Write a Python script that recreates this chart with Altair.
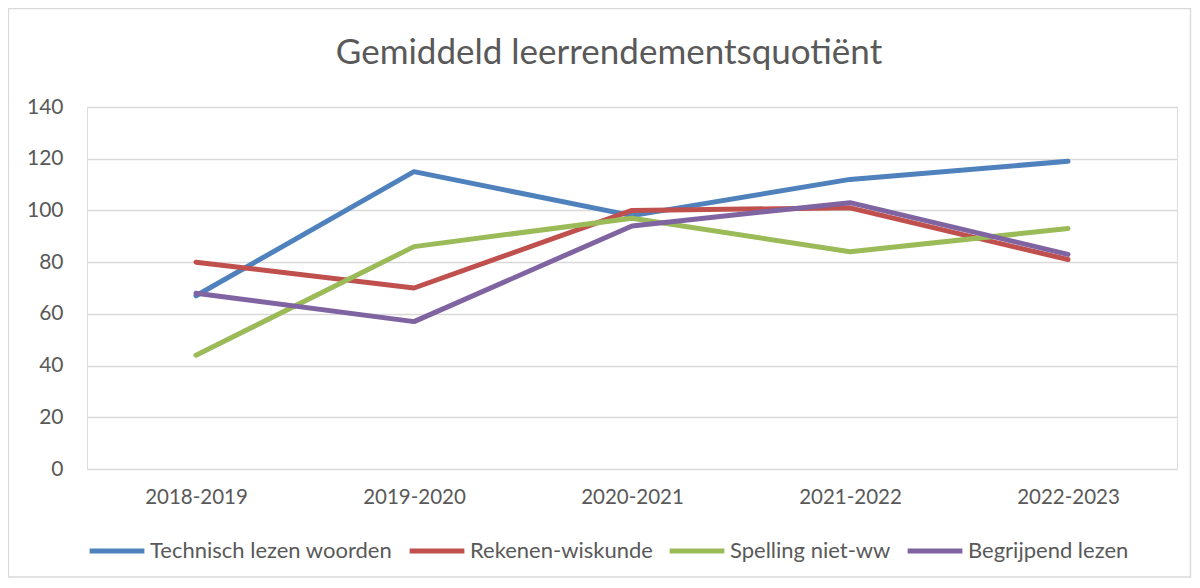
import altair as alt
import pandas as pd

years = ["2018-2019", "2019-2020", "2020-2021", "2021-2022", "2022-2023"]
series_names = ["Technisch lezen woorden", "Rekenen-wiskunde", "Spelling niet-ww", "Begrijpend lezen"]
technisch = [67, 115, 98, 112, 119]
rekenen = [80, 70, 100, 101, 81]
spelling = [44, 86, 97, 84, 93]
begrijpend = [68, 57, 94, 103, 83]
colors = ["#4F81BD", "#C0504D", "#9BBB59", "#8064A2"]

rows = []
for name, vals in zip(series_names, [technisch, rekenen, spelling, begrijpend]):
    for y, v in zip(years, vals):
        rows.append({"Jaar": y, "Reeks": name, "Waarde": v})
df = pd.DataFrame(rows)

FONT = "Lato"
GREY = "#595959"
W, H = 1090, 362
PL, PT, PR, PB = 79, 99, 15, 111

lines = alt.Chart(df).mark_line(strokeWidth=5, strokeCap="round", strokeJoin="round").encode(
    x=alt.X("Jaar:N", sort=years, scale=alt.Scale(type="point", padding=0.5),
            axis=alt.Axis(title=None, labelAngle=0, labelFontSize=20.5, labelColor=GREY,
                          labelFont=FONT, ticks=False, domain=False, labelPadding=18, grid=False)),
    y=alt.Y("Waarde:Q", scale=alt.Scale(domain=[0, 140]),
            axis=alt.Axis(title=None, values=list(range(0, 141, 20)), labelFontSize=21,
                          labelColor=GREY, labelFont=FONT, ticks=False, domain=False,
                          labelPadding=24, gridColor="#D9D9D9", gridWidth=1.3)),
    color=alt.Color("Reeks:N", sort=series_names,
                    scale=alt.Scale(domain=series_names, range=colors),
                    legend=alt.Legend(title=None, orient="none", direction="horizontal",
                                      columns=4, legendX=0, legendY=414,
                                      symbolType="stroke", symbolSize=3000,
                                      symbolStrokeWidth=5, labelFontSize=22,
                                      labelColor=GREY, labelFont=FONT, labelOffset=3,
                                      labelLimit=0, columnPadding=6)),
    order=alt.Order("idx:Q"),
).transform_calculate(
    idx="indexof(" + str(series_names).replace("'", '"') + ", datum.Reeks)"
)

border = alt.Chart(pd.DataFrame({"a": [0]})).mark_rect(
    fill=None, stroke="#D9D9D9", strokeWidth=1.3
).encode(
    x=alt.value(-PL + 0.5), x2=alt.value(W + PR - 1.5),
    y=alt.value(-PT + 0.5), y2=alt.value(H + PB - 3),
)

chart = alt.layer(border, lines).properties(
    width=W, height=H,
    autosize=alt.AutoSizeParams(type="none"),
    padding={"left": PL, "top": PT, "right": PR, "bottom": PB},
    title=alt.TitleParams("Gemiddeld leerrendementsquotiënt", fontSize=35, font=FONT,
                          color=GREY, fontWeight="normal", anchor="middle", offset=-63,
                          dx=-23),
).configure_view(stroke=None).configure(background="white")

chart.save("out.html", embed_options={"renderer": "svg", "actions": False})
